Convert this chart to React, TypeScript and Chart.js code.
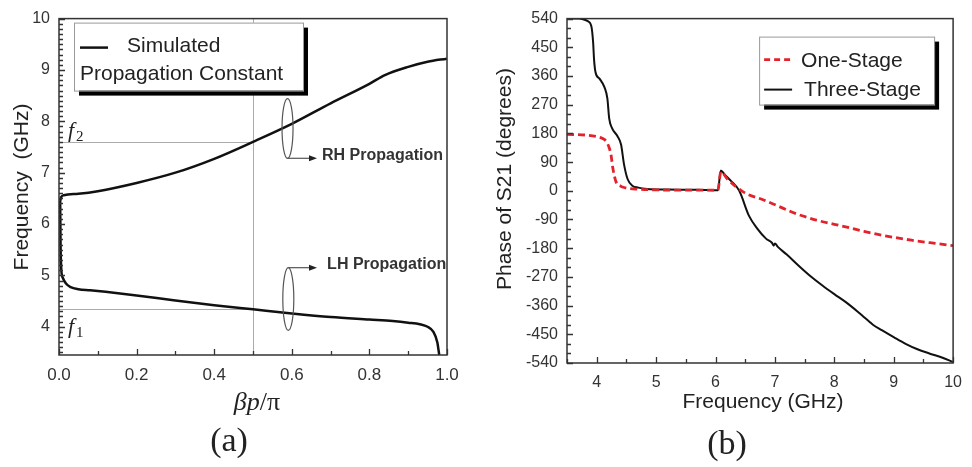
import { useEffect, useRef } from 'react';
import { Chart, registerables } from 'chart.js';

Chart.register(...registerables);

// ---------- Panel (a): dispersion diagram ----------
const BETA_RH = [0.003, 0.006, 0.012, 0.05, 0.1, 0.2, 0.3, 0.4, 0.5, 0.6, 0.7, 0.8, 0.84, 0.9, 0.95, 1.0];
const FREQ_RH = [6.45, 6.53, 6.56, 6.59, 6.64, 6.8, 7.0, 7.27, 7.6, 7.95, 8.35, 8.73, 8.9, 9.06, 9.16, 9.22];
const BETA_LH = [0.003, 0.004, 0.006, 0.01, 0.018, 0.03, 0.05, 0.08, 0.12, 0.2, 0.3, 0.4, 0.5, 0.6, 0.7, 0.8, 0.86, 0.9, 0.93, 0.95, 0.965, 0.975, 0.98];
const FREQ_LH = [6.45, 5.6, 5.1, 4.95, 4.84, 4.77, 4.73, 4.71, 4.68, 4.61, 4.51, 4.42, 4.34, 4.26, 4.19, 4.14, 4.11, 4.08, 4.05, 4.0, 3.9, 3.7, 3.45];
const A_X_TICKS = [0, 0.2, 0.4, 0.6, 0.8, 1.0];
const A_Y_TICKS = [4, 5, 6, 7, 8, 9, 10];
const F1 = 4.34;
const F2 = 7.6;
const BETA_MID = 0.5;

// ---------- Panel (b): phase of S21 ----------
const F_ONE = [3.5, 3.8, 4.0, 4.1, 4.16, 4.21, 4.24, 4.27, 4.32, 4.4, 4.49, 4.7, 5.0, 5.5, 6.04, 6.09, 6.2, 6.48, 6.8, 7.03, 7.36, 7.7, 8.0, 8.19, 8.5, 8.8, 9.3, 9.7, 10.0];
const PH_ONE = [177, 175, 170, 164, 155, 135, 114, 73, 31, 15, 9, 5, 3, 2, 2, 60, 37, -5, -28, -46, -72, -92, -105, -113, -127, -139, -155, -165, -172];
const F_THREE = [3.5, 3.7, 3.77, 3.85, 3.91, 3.94, 3.955, 3.98, 4.05, 4.13, 4.18, 4.21, 4.26, 4.35, 4.41, 4.46, 4.52, 4.6, 4.7, 4.85, 5.2, 5.7, 6.04, 6.09, 6.15, 6.26, 6.4, 6.56, 6.7, 6.85, 6.95, 6.98, 7.0, 7.05, 7.2, 7.4, 7.6, 7.8, 8.0, 8.2, 8.4, 8.6, 8.65, 8.8, 9.0, 9.2, 9.4, 9.6, 9.8, 10.0];
const PH_THREE = [540, 540, 538, 532, 516, 465, 413, 372, 351, 325, 289, 227, 196, 171, 145, 83, 37, 16, 10, 6, 4, 3, 2, 64, 52, 31, 0, -77, -118, -150, -163, -172, -165, -176, -200, -235, -268, -297, -324, -350, -380, -412, -420, -437, -459, -480, -497, -510, -522, -537];
const B_X_TICKS = [4, 5, 6, 7, 8, 9, 10];
const B_Y_TICKS = [-540, -450, -360, -270, -180, -90, 0, 90, 180, 270, 360, 450, 540];

const SANS = '"Liberation Sans", Arial, Helvetica, sans-serif';
const SERIF = '"Liberation Serif", "Times New Roman", serif';
const INK = '#222';

function minorValues(min: number, max: number, step: number) {
  const out: number[] = [];
  const k0 = Math.ceil(min / step - 1e-9);
  const k1 = Math.floor(max / step + 1e-9);
  for (let k = k0; k <= k1; k++) out.push(+(k * step).toFixed(6));
  return out;
}

function drawFrameAndTicks(chart: any, xMajor: number[], xStep: number, yMajor: number[], yStep: number) {
  const { ctx, chartArea: a, scales } = chart;
  const xs = scales.x;
  const ys = scales.y;
  ctx.save();
  ctx.strokeStyle = '#333';
  ctx.lineWidth = 1.3;
  ctx.beginPath();
  for (const v of minorValues(xs.min, xs.max, xStep)) {
    const px = Math.round(xs.getPixelForValue(v)) + 0.5;
    const major = xMajor.some((m) => Math.abs(m - v) < 1e-6);
    ctx.moveTo(px, a.bottom);
    ctx.lineTo(px, a.bottom - (major ? 6 : 4));
  }
  for (const v of minorValues(ys.min, ys.max, yStep)) {
    const py = Math.round(ys.getPixelForValue(v)) + 0.5;
    const major = yMajor.some((m) => Math.abs(m - v) < 1e-6);
    ctx.moveTo(a.left, py);
    ctx.lineTo(a.left + (major ? 6 : 4), py);
  }
  ctx.stroke();
  ctx.lineWidth = 1.5;
  ctx.strokeStyle = '#333';
  ctx.strokeRect(a.left, a.top, a.right - a.left, a.bottom - a.top);
  ctx.restore();
}

function drawShadowBox(ctx: CanvasRenderingContext2D, x: number, y: number, w: number, h: number) {
  ctx.save();
  ctx.fillStyle = '#000';
  ctx.fillRect(x + 5, y + 5, w, h);
  ctx.fillStyle = '#fff';
  ctx.fillRect(x, y, w, h);
  ctx.strokeStyle = '#9a9a9a';
  ctx.lineWidth = 1;
  ctx.strokeRect(x + 0.5, y + 0.5, w, h);
  ctx.restore();
}

function drawText(ctx: CanvasRenderingContext2D, s: string, x: number, y: number, font: string, align: CanvasTextAlign = 'center', baseline: CanvasTextBaseline = 'middle', rot = 0, color = INK) {
  ctx.save();
  ctx.font = font;
  ctx.fillStyle = color;
  ctx.textAlign = align;
  ctx.textBaseline = baseline;
  ctx.translate(x, y);
  if (rot) ctx.rotate(rot);
  ctx.fillText(s, 0, 0);
  ctx.restore();
}

const ANNOTATIONS = [
  { beta: 0.589, f: 7.86, rf: 0.58, fromTop: false, tipBeta: 0.665, textBeta: 0.678, label: 'RH Propagation' },
  { beta: 0.591, f: 4.54, rf: 0.61, fromTop: true, tipBeta: 0.665, textBeta: 0.691, label: 'LH Propagation' },
];

const panelAPlugin = {
  id: 'panelA',
  beforeDatasetsDraw(chart: any) {
    const { ctx, scales } = chart;
    const x = scales.x;
    const y = scales.y;
    ctx.save();
    ctx.strokeStyle = '#ababab';
    ctx.lineWidth = 1;
    const xm = Math.round(x.getPixelForValue(BETA_MID)) + 0.5;
    ctx.beginPath();
    ctx.moveTo(xm, y.getPixelForValue(y.max));
    ctx.lineTo(xm, y.getPixelForValue(y.min));
    for (const f of [F1, F2]) {
      const py = Math.round(y.getPixelForValue(f)) + 0.5;
      ctx.moveTo(x.getPixelForValue(x.min), py);
      ctx.lineTo(xm, py);
    }
    ctx.stroke();
    ctx.restore();
  },
  afterDatasetsDraw(chart: any) {
    const { ctx, scales, chartArea: a } = chart;
    const x = scales.x;
    const y = scales.y;

    for (const an of ANNOTATIONS) {
      const cx = x.getPixelForValue(an.beta);
      const cy = y.getPixelForValue(an.f);
      const ry = Math.abs(y.getPixelForValue(an.f + an.rf) - cy);
      ctx.save();
      ctx.strokeStyle = '#555';
      ctx.lineWidth = 1.2;
      ctx.beginPath();
      ctx.ellipse(cx, cy, 5.5, ry, 0, 0, Math.PI * 2);
      ctx.stroke();
      const ay = an.fromTop ? cy - ry : cy + ry;
      const tx = x.getPixelForValue(an.tipBeta);
      ctx.beginPath();
      ctx.moveTo(cx, ay);
      ctx.lineTo(tx - 6, ay);
      ctx.stroke();
      ctx.fillStyle = '#222';
      ctx.beginPath();
      ctx.moveTo(tx, ay);
      ctx.lineTo(tx - 8, ay - 3);
      ctx.lineTo(tx - 8, ay + 3);
      ctx.closePath();
      ctx.fill();
      ctx.restore();
      drawText(ctx, an.label, x.getPixelForValue(an.textBeta), ay - 3, `bold 16px ${SANS}`, 'left', 'middle', 0, '#333');
    }

    const y2 = y.getPixelForValue(F2);
    const y1 = y.getPixelForValue(F1);
    drawText(ctx, 'f', a.left + 9, y2 - 5, `italic 22px ${SERIF}`, 'left', 'alphabetic');
    drawText(ctx, '2', a.left + 17, y2 - 1, `15px ${SERIF}`, 'left', 'alphabetic');
    drawText(ctx, 'f', a.left + 9, y1 + 24, `italic 22px ${SERIF}`, 'left', 'alphabetic');
    drawText(ctx, '1', a.left + 17, y1 + 28, `15px ${SERIF}`, 'left', 'alphabetic');

    const bx = a.left + 15;
    const by = a.top + 4;
    drawShadowBox(ctx, bx, by, 229, 68);
    ctx.save();
    ctx.strokeStyle = '#111';
    ctx.lineWidth = 2.5;
    ctx.beginPath();
    ctx.moveTo(bx + 6, by + 25);
    ctx.lineTo(bx + 34, by + 25);
    ctx.stroke();
    ctx.restore();
    drawText(ctx, 'Simulated', bx + 53, by + 29, `21px ${SANS}`, 'left', 'alphabetic');
    drawText(ctx, 'Propagation Constant', bx + 6, by + 57, `21px ${SANS}`, 'left', 'alphabetic');

    drawFrameAndTicks(chart, A_X_TICKS, 0.1, A_Y_TICKS, 0.1);
  },
  afterDraw(chart: any) {
    const { ctx } = chart;
    drawText(ctx, 'Frequency  (GHz)', 22, 187, `21px ${SANS}`, 'center', 'middle', -Math.PI / 2);
    ctx.save();
    ctx.font = `italic 26px ${SERIF}`;
    const w1 = ctx.measureText('βp').width;
    ctx.font = `26px ${SERIF}`;
    const w2 = ctx.measureText('/π').width;
    ctx.restore();
    const sx = 257 - (w1 + w2) / 2;
    drawText(ctx, 'βp', sx, 403, `italic 26px ${SERIF}`, 'left', 'middle');
    drawText(ctx, '/π', sx + w1, 403, `26px ${SERIF}`, 'left', 'middle');
    drawText(ctx, '(a)', 229, 442, `34px ${SERIF}`, 'center', 'middle');
  },
};

const panelBPlugin = {
  id: 'panelB',
  afterDatasetsDraw(chart: any) {
    const { ctx, chartArea: a } = chart;
    const bx = a.right - 194;
    const by = a.top + 18;
    drawShadowBox(ctx, bx, by, 175, 68);
    ctx.save();
    ctx.strokeStyle = '#e3232b';
    ctx.lineWidth = 2.8;
    ctx.setLineDash([6, 4]);
    ctx.beginPath();
    ctx.moveTo(bx + 5, by + 23);
    ctx.lineTo(bx + 33, by + 23);
    ctx.stroke();
    ctx.setLineDash([]);
    ctx.strokeStyle = '#111';
    ctx.lineWidth = 2;
    ctx.beginPath();
    ctx.moveTo(bx + 5, by + 53);
    ctx.lineTo(bx + 33, by + 53);
    ctx.stroke();
    ctx.restore();
    drawText(ctx, 'One-Stage', bx + 42, by + 30, `21px ${SANS}`, 'left', 'alphabetic');
    drawText(ctx, 'Three-Stage', bx + 45, by + 59, `21px ${SANS}`, 'left', 'alphabetic');
    drawFrameAndTicks(chart, B_X_TICKS, 0.5, B_Y_TICKS, 30);
  },
  afterDraw(chart: any) {
    const { ctx } = chart;
    drawText(ctx, 'Phase of S21 (degrees)', 35, 179, `21px ${SANS}`, 'center', 'middle', -Math.PI / 2);
    drawText(ctx, 'Frequency (GHz)', 293, 402, `21px ${SANS}`, 'center', 'middle');
    drawText(ctx, '(b)', 257, 445, `34px ${SERIF}`, 'center', 'middle');
  },
};

function pts(xs: number[], ys: number[]) {
  return xs.map((v, i) => ({ x: v, y: ys[i] }));
}

export default function App() {
  const refA = useRef<HTMLCanvasElement>(null);
  const refB = useRef<HTMLCanvasElement>(null);

  useEffect(() => {
    const tickFont = (size: number) => ({ family: SANS, size });
    const noGrid = { display: false, drawTicks: false, tickLength: 0 };
    const chartA = new Chart(refA.current as HTMLCanvasElement, {
      type: 'line',
      data: {
        datasets: [
          { data: pts(BETA_RH, FREQ_RH), borderColor: '#111', borderWidth: 2.5, pointRadius: 0, cubicInterpolationMode: 'monotone', fill: false },
          { data: pts(BETA_LH, FREQ_LH), borderColor: '#111', borderWidth: 2.5, pointRadius: 0, cubicInterpolationMode: 'monotone', fill: false },
        ],
      },
      options: {
        responsive: false,
        animation: false,
        events: [],
        layout: { padding: { left: 0, right: 23, top: 13, bottom: 0 } },
        plugins: { legend: { display: false }, tooltip: { enabled: false } },
        scales: {
          x: {
            type: 'linear', min: 0, max: 1,
            grid: noGrid, border: { display: false },
            ticks: { font: tickFont(17), color: '#333', padding: 10, maxRotation: 0, autoSkip: false, callback: (v: any) => Number(v).toFixed(1) },
            afterBuildTicks: (s: any) => { s.ticks = A_X_TICKS.map((value) => ({ value })); },
            afterFit: (s: any) => { s.height = 112; },
          },
          y: {
            type: 'linear', min: 3.45, max: 10,
            grid: noGrid, border: { display: false },
            ticks: { font: tickFont(16), color: '#333', padding: 9, autoSkip: false, callback: (v: any) => String(v) },
            afterBuildTicks: (s: any) => { s.ticks = A_Y_TICKS.map((value) => ({ value })); },
            afterFit: (s: any) => { s.width = 59; },
          },
        },
      } as any,
      plugins: [panelAPlugin as any],
    });

    const chartB = new Chart(refB.current as HTMLCanvasElement, {
      type: 'line',
      data: {
        datasets: [
          { label: 'One-Stage', data: pts(F_ONE, PH_ONE), borderColor: '#e3232b', borderWidth: 2.8, borderDash: [7, 4], pointRadius: 0, cubicInterpolationMode: 'monotone', fill: false },
          { label: 'Three-Stage', data: pts(F_THREE, PH_THREE), borderColor: '#111', borderWidth: 2, pointRadius: 0, cubicInterpolationMode: 'monotone', fill: false },
        ],
      },
      options: {
        responsive: false,
        animation: false,
        events: [],
        layout: { padding: { left: 0, right: 13, top: 14, bottom: 0 } },
        plugins: { legend: { display: false }, tooltip: { enabled: false } },
        scales: {
          x: {
            type: 'linear', min: 3.5, max: 10,
            grid: noGrid, border: { display: false },
            ticks: { font: tickFont(16), color: '#333', padding: 10, maxRotation: 0, autoSkip: false, callback: (v: any) => String(v) },
            afterBuildTicks: (s: any) => { s.ticks = B_X_TICKS.map((value) => ({ value })); },
            afterFit: (s: any) => { s.height = 104; },
          },
          y: {
            type: 'linear', min: -540, max: 540,
            grid: noGrid, border: { display: false },
            ticks: { font: tickFont(16), color: '#333', padding: 9, autoSkip: false, callback: (v: any) => String(v) },
            afterBuildTicks: (s: any) => { s.ticks = B_Y_TICKS.map((value) => ({ value })); },
            afterFit: (s: any) => { s.width = 97; },
          },
        },
      } as any,
      plugins: [panelBPlugin as any],
    });

    return () => {
      chartA.destroy();
      chartB.destroy();
    };
  }, []);

  return (
    <div style={{ position: 'absolute', left: 0, top: 0, width: 972, height: 467, background: '#fff' }}>
      <canvas ref={refA} width={470} height={467} style={{ position: 'absolute', left: 0, top: 0, width: 470, height: 467 }} />
      <canvas ref={refB} width={502} height={467} style={{ position: 'absolute', left: 470, top: 0, width: 502, height: 467 }} />
    </div>
  );
}
